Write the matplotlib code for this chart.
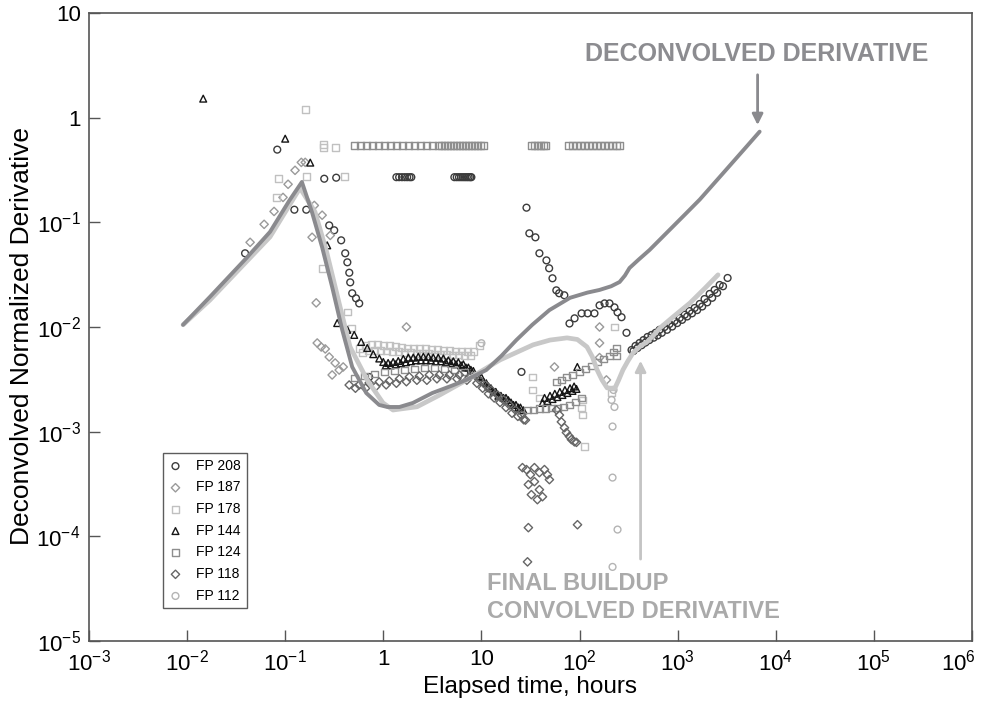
import numpy as np
import matplotlib.pyplot as plt
from matplotlib.transforms import ScaledTranslation

plt.rcParams['font.family'] = ['Liberation Sans', 'DejaVu Sans']
plt.rcParams['mathtext.fontset'] = 'custom'
plt.rcParams['mathtext.rm'] = 'Liberation Sans'
plt.rcParams['mathtext.it'] = 'Liberation Sans'

# deconvolved derivative (dark gray curve)
deconv_t = [0.0091, 0.0171, 0.040, 0.070, 0.11, 0.148, 0.188, 0.238, 0.301, 0.381, 0.482, 0.67,
            0.908, 1.1, 1.46, 2.0, 3.16, 5.0, 7.0, 11.2, 16, 22.7, 33, 49.3, 80, 120, 160, 210, 256,
            290, 323, 400, 517, 800, 1200, 1680, 3000, 5000, 6850]
deconv_y = [0.0105, 0.0194, 0.0453, 0.081, 0.161, 0.243, 0.124, 0.0577, 0.0241, 0.0094, 0.00415, 0.00234,
            0.0018, 0.00172, 0.00172, 0.00188, 0.00234, 0.00275, 0.00312, 0.00388, 0.0053, 0.0075, 0.0105, 0.0145,
            0.019, 0.0213, 0.0226, 0.0245, 0.0269, 0.031, 0.0366, 0.044, 0.0544, 0.082, 0.12, 0.165, 0.305, 0.525, 0.735]

# final buildup convolved derivative (light gray curve)
conv_t = [0.0091, 0.0171, 0.070, 0.1415, 0.201, 0.262, 0.362, 0.458, 0.683, 0.993, 1.256, 2.21, 3.79,
          7.13, 15.5, 33.6, 50, 74.6, 95, 119, 135, 151, 170, 191, 210, 230, 250, 277, 310, 351, 420,
          488, 560, 662, 900, 1340, 1900, 2580]
conv_y = [0.0105, 0.0181, 0.0726, 0.213, 0.126, 0.054, 0.0156, 0.00646, 0.00313, 0.00188, 0.00161, 0.00173, 0.00225,
          0.00313, 0.00485, 0.00675, 0.0075, 0.00787, 0.0076, 0.00646, 0.0052, 0.00389, 0.0031, 0.00262, 0.0026,
          0.00262, 0.0031, 0.00389, 0.0047, 0.00566, 0.0066, 0.00721, 0.0082, 0.0098, 0.0125, 0.017, 0.0235, 0.0315]

# FP 208
fp208_t = [0.039, 0.083, 0.124, 0.164, 0.25, 0.331, 0.281, 0.316, 0.372, 0.409, 0.43, 0.45, 0.46, 0.482, 0.527, 0.568, 0.718,
           1.36, 1.45, 1.55, 1.65, 1.75, 1.85, 1.93,
           5.3, 5.6, 5.9, 6.2, 6.5, 6.8, 7.1, 7.4, 7.7, 7.9,
           25.6, 28.8, 30.8, 35.5, 39, 46, 49, 53, 58, 62, 70, 79, 89, 105, 121, 142, 160, 180, 202, 227, 244, 268, 301,
           339, 372, 409, 449, 493, 542, 595, 654, 735, 827, 930, 1050, 1180, 1320, 1490, 1680, 1880, 2120, 2380, 2680, 3230,
           355, 390, 430, 470, 515, 570, 625, 690, 780, 880, 990, 1110, 1250, 1400, 1580, 1780, 2000, 2250, 2530, 2900]
fp208_y = [0.0506, 0.495, 0.132, 0.132, 0.261, 0.267, 0.0935, 0.084, 0.0673, 0.0506, 0.0415, 0.033, 0.0267, 0.021, 0.0188, 0.0168, 0.00333,
           0.27, 0.27, 0.27, 0.27, 0.27, 0.27, 0.27,
           0.27, 0.27, 0.27, 0.27, 0.27, 0.27, 0.27, 0.27, 0.27, 0.27,
           0.00372, 0.138, 0.0785, 0.0719, 0.0506, 0.0433, 0.0364, 0.0292, 0.0224, 0.021, 0.0201, 0.0108, 0.0121, 0.0135,
           0.0135, 0.0135, 0.0161, 0.0168, 0.0168, 0.0154, 0.0138, 0.0124, 0.0088,
           0.00603, 0.0066, 0.00703, 0.0075, 0.00803, 0.00839, 0.0088, 0.0094, 0.01, 0.0107, 0.0114, 0.0122, 0.0131,
           0.0142, 0.0152, 0.0166, 0.0185, 0.0207, 0.0226, 0.0252, 0.0294,
           0.0059, 0.0063, 0.0067, 0.0071, 0.0075, 0.0079, 0.0083, 0.0088, 0.0094, 0.0101, 0.0109, 0.0117, 0.0126,
           0.0135, 0.0145, 0.0157, 0.0172, 0.019, 0.0212, 0.0245]

# FP 187
fp187_t = [0.0439, 0.061, 0.077, 0.095, 0.107, 0.126, 0.146, 0.16, 0.198, 0.238, 0.288, 0.188, 0.207, 0.212, 0.233,
           0.256, 0.281, 0.301, 0.323, 0.355, 0.39, 1.72, 55.5, 160, 160, 160, 188]
fp187_y = [0.0644, 0.0957, 0.127, 0.173, 0.231, 0.314, 0.374, 0.374, 0.145, 0.117, 0.075, 0.072, 0.017, 0.00703, 0.00644,
           0.00617, 0.00517, 0.00348, 0.00453, 0.00388, 0.00415, 0.01, 0.00415, 0.01, 0.00703, 0.0051, 0.00312]

# FP 178
fp178_t = [0.16, 0.244, 0.244, 0.323, 0.0847, 0.081, 0.166, 0.399, 0.238, 0.429, 0.47,
           0.569, 0.656, 0.755, 0.869, 1.0, 1.15, 1.32, 1.52, 1.76, 2.02, 2.33, 2.68, 3.08, 3.55, 4.09, 4.71, 5.42,
           6.24, 7.18, 8.27, 9.52,
           0.61, 0.70, 0.81, 0.93, 1.07, 1.23, 1.42, 1.64, 1.89, 2.17, 2.5, 2.87, 3.3, 3.8, 4.4, 5.05, 5.8, 6.7, 7.7,
           33.1, 33.1, 39, 107, 105, 107, 112, 212, 227]
fp178_y = [1.19, 0.552, 0.517, 0.517, 0.261, 0.172, 0.273, 0.273, 0.0364, 0.0139, 0.0098,
           0.0062, 0.0066, 0.0068, 0.0068, 0.0067, 0.0066, 0.0065, 0.0064, 0.0063, 0.0063, 0.0062, 0.0062, 0.0061,
           0.0061, 0.006, 0.006, 0.0059, 0.0059, 0.0058, 0.0058, 0.0066,
           0.0057, 0.0059, 0.006, 0.006, 0.0059, 0.0058, 0.0058, 0.0057, 0.0057, 0.0056, 0.0056, 0.0056, 0.0055,
           0.0055, 0.0055, 0.0054, 0.0054, 0.0053, 0.0053,
           0.00333, 0.0025, 0.0021, 0.00201, 0.00168, 0.00144, 0.00072, 0.00234, 0.01]

# FP 144
fp144_t = [0.0146, 0.1, 0.18, 0.268, 0.339, 0.429, 0.505, 0.595, 0.686, 0.79, 0.91,
           1.0, 1.12, 1.26, 1.42, 1.6, 1.8, 2.02, 2.27, 2.56, 2.88, 3.23, 3.63, 4.09, 4.6, 5.17, 5.82, 6.54, 7.36,
           8.27, 9.3, 10.5, 11.8, 13.3, 14.9, 16.8, 18.8, 21.2, 23.8, 26.8,
           1.06, 1.19, 1.34, 1.51, 1.7, 1.91, 2.15, 2.42, 2.72, 3.05, 3.43, 3.86, 4.34, 4.88, 5.5, 6.2, 6.95, 7.8,
           10, 11.2, 12.5, 14, 15.8, 17.8, 20, 22.5, 25,
           41.9, 47.1, 53, 59.5, 66.9, 75.3, 84.7, 93, 95,
           44, 50, 56, 63, 71, 80, 88]
fp144_y = [1.52, 0.63, 0.372, 0.0603, 0.0109, 0.0094, 0.0084, 0.0072, 0.0063, 0.0055, 0.005,
           0.00463, 0.00453, 0.00463, 0.00473, 0.00495, 0.0051, 0.0051, 0.0052, 0.0052, 0.0052, 0.0051, 0.0051, 0.005,
           0.0048, 0.0047, 0.0046, 0.0044, 0.0041, 0.0038, 0.0034, 0.003, 0.0027, 0.0024, 0.0022, 0.0021, 0.002,
           0.0018, 0.0017, 0.0016,
           0.0043, 0.0043, 0.0044, 0.0045, 0.0046, 0.0047, 0.0048, 0.0048, 0.0048, 0.0048, 0.0047, 0.0047, 0.0046,
           0.0045, 0.0044, 0.0043, 0.0041, 0.0039,
           0.0033, 0.0029, 0.0026, 0.0024, 0.0022, 0.0021, 0.0019, 0.0018, 0.0017,
           0.00188, 0.00196, 0.00205, 0.00214, 0.00224, 0.00234, 0.00245, 0.00256, 0.00415,
           0.0021, 0.0022, 0.0023, 0.0024, 0.0025, 0.0026, 0.0027]

# FP 124
fp124_t = [0.506, 0.583, 0.671, 0.772, 0.889, 1.02, 1.18, 1.36, 1.56, 1.8, 2.07, 2.38, 2.74, 3.16, 3.64, 3.9, 4.19,
           4.49, 4.82, 5.17, 5.55, 5.95, 6.39, 6.86, 7.36, 7.89, 8.47, 9.08, 9.75, 10.5,
           32.3, 34.7, 37.2, 39.9, 42.9, 44.9,
           77.1, 84.7, 93, 102, 112, 124, 136, 149, 164, 180, 198, 217, 238, 256,
           0.505, 0.639, 0.808, 1.02, 1.29, 1.64, 2.07, 2.62, 3.31, 4.19, 5.3, 6.7, 8.47,
           29.4, 33.9, 39, 44.9, 51.7, 59.5, 68.5, 78.9, 90.8, 105,
           58.2, 65.3, 73.5, 84.7, 100, 115, 132, 153, 176, 202, 222, 238, 238]
fp124_y = [0.54, 0.54, 0.54, 0.54, 0.54, 0.54, 0.54, 0.54, 0.54, 0.54, 0.54, 0.54, 0.54, 0.54, 0.54, 0.54, 0.54,
           0.54, 0.54, 0.54, 0.54, 0.54, 0.54, 0.54, 0.54, 0.54, 0.54, 0.54, 0.54, 0.54,
           0.54, 0.54, 0.54, 0.54, 0.54, 0.54,
           0.54, 0.54, 0.54, 0.54, 0.54, 0.54, 0.54, 0.54, 0.54, 0.54, 0.54, 0.54, 0.54, 0.54,
           0.00326, 0.0034, 0.00356, 0.00372, 0.0038, 0.00388, 0.00397, 0.00406, 0.00406, 0.00397, 0.00388, 0.00372, 0.00348,
           0.00161, 0.00161, 0.00165, 0.00165, 0.00168, 0.00168, 0.00172, 0.0018, 0.00192, 0.0021,
           0.00298, 0.00312, 0.00333, 0.00348, 0.00372, 0.00397, 0.00424, 0.00463, 0.00495, 0.00528, 0.00577, 0.0063, 0.00528]

# FP 118
fp118_t = [0.449, 0.568, 0.718, 0.908, 1.15, 1.46, 1.84, 2.33, 2.94, 3.72, 4.71, 5.95, 7.53, 9.52, 11, 12.6, 14.6,
           16.8, 19.3, 22.2, 25.6, 28.1,
           0.52, 0.66, 0.84, 1.07, 1.36, 1.72, 2.2, 2.78, 3.52, 4.45, 5.63, 7.1, 9.0,
           10.3, 11.8, 13.5, 15.5, 17.8, 20.5, 23.5, 27,
           58.2, 62.4, 65.3, 70.2, 73.5, 78.9, 82.7, 88.7, 93,
           26.2, 28.8, 31.6, 34.7, 39, 43.9, 47.1, 34.7, 39, 32.3, 37.2, 41.9, 49.3, 30.1,
           30.1, 29.5, 95.3]
fp118_y = [0.00279, 0.00279, 0.00292, 0.00298, 0.00305, 0.00319, 0.00333, 0.0034, 0.00348, 0.00348, 0.00348, 0.00348,
           0.00333, 0.00312, 0.00279, 0.0025, 0.00224, 0.00201, 0.0018, 0.00161, 0.00144, 0.00129,
           0.0026, 0.0026, 0.0027, 0.0028, 0.0029, 0.003, 0.0031, 0.0031, 0.0032, 0.0032, 0.0032, 0.0031, 0.0029,
           0.0026, 0.0023, 0.0021, 0.0019, 0.0017, 0.0015, 0.0014, 0.0013,
           0.00161, 0.00144, 0.00124, 0.00109, 0.00098, 0.0009, 0.00084, 0.0008, 0.00079,
           0.000453, 0.000434, 0.000388, 0.000453, 0.000406, 0.000434, 0.000388, 0.000333, 0.000279, 0.00025,
           0.000224, 0.000239, 0.000348, 0.000312,
           0.000121, 5.7e-5, 0.000129]

# FP 112
fp112_t = [217, 217, 244, 217, 227, 222, 10, 212]
fp112_y = [0.00112, 0.000364, 0.000116, 5.1e-5, 0.00172, 0.0025, 0.007, 0.00201]

series = [
    ('FP 208', fp208_t, fp208_y, 'o', '#3c3c3c'),
    ('FP 187', fp187_t, fp187_y, 'D', '#9a9a9a'),
    ('FP 178', fp178_t, fp178_y, 's', '#c0c0c0'),
    ('FP 144', fp144_t, fp144_y, '^', '#151515'),
    ('FP 124', fp124_t, fp124_y, 's', '#8e8e8e'),
    ('FP 118', fp118_t, fp118_y, 'D', '#666666'),
    ('FP 112', fp112_t, fp112_y, 'o', '#b4b4b4'),
]

fig = plt.figure(figsize=(9.81, 7.07), dpi=100)
ax = fig.add_axes([0.0907, 0.0934, 0.9001, 0.8882])

for name, t, y, m, c in series:
    s = 18 if m == 'D' else 24
    ax.scatter(t, y, marker=m, s=s, facecolors='none', edgecolors=c, linewidths=1.0, label=name, zorder=2)

ax.plot(conv_t, conv_y, color='#c8c8c8', lw=3.4, zorder=3, solid_capstyle='round', solid_joinstyle='round')
ax.plot(deconv_t, deconv_y, color='#8a8a8e', lw=2.8, zorder=4, solid_capstyle='round', solid_joinstyle='round')

ax.set_xscale('log')
ax.set_yscale('log')
ax.set_xlim(1e-3, 1e6)
ax.set_ylim(1e-5, 10)

xt = [1e-3, 1e-2, 1e-1, 1, 10, 1e2, 1e3, 1e4, 1e5, 1e6]
xl = ['$10^{-3}$', '$10^{-2}$', '$10^{-1}$', '1', '10', '$10^{2}$', '$10^{3}$', '$10^{4}$', '$10^{5}$', '$10^{6}$']
yt = [1e-5, 1e-4, 1e-3, 1e-2, 1e-1, 1, 10]
yl = ['$10^{-5}$', '$10^{-4}$', '$10^{-3}$', '$10^{-2}$', '$10^{-1}$', '1', '10']
ax.set_xticks(xt)
ax.set_xticklabels(xl)
ax.set_yticks(yt)
ax.set_yticklabels(yl)
ax.minorticks_off()
ax.tick_params(direction='in', length=8, width=1, color='#555555', labelsize=16, pad=6)
last = ax.get_xticklabels()[-1]
last.set_transform(last.get_transform() + ScaledTranslation(-10 / 72, 0, fig.dpi_scale_trans))

for sp in ax.spines.values():
    sp.set_color('#555555')
    sp.set_linewidth(1.2)

ax.set_xlabel('Elapsed time, hours', fontsize=17.5)
ax.set_ylabel('Deconvolved Normalized Derivative', fontsize=19)
ax.xaxis.set_label_coords(0.5, -0.056)
ax.yaxis.set_label_coords(-0.062, 0.486)

leg = ax.legend(loc='upper left', bbox_to_anchor=(0.0838, 0.299), borderaxespad=0, fontsize=10,
                frameon=True, fancybox=False, edgecolor='#333333', handlelength=1.0, handletextpad=1.0,
                labelspacing=0.55, borderpad=0.4, scatterpoints=1)
leg.get_frame().set_linewidth(1.0)

# annotations
ax.annotate('', xy=(6530, 0.8), xytext=(6530, 2.73),
            arrowprops=dict(arrowstyle='-|>', color='#8a8a8e', lw=2, mutation_scale=16))
ax.annotate('', xy=(419, 0.00506), xytext=(419, 5.7e-5),
            arrowprops=dict(arrowstyle='-|>', color='#c4c4c4', lw=2, mutation_scale=16))
fig.text(585 / 981, 1 - 54 / 707, 'DECONVOLVED DERIVATIVE', color='#8c8c90', fontsize=18,
         fontweight='bold', va='center', ha='left')
fig.text(487 / 981, 1 - 583 / 707, 'FINAL BUILDUP', color='#aaaaaa', fontsize=17,
         fontweight='bold', va='center', ha='left')
fig.text(487 / 981, 1 - 612 / 707, 'CONVOLVED DERIVATIVE', color='#aaaaaa', fontsize=17,
         fontweight='bold', va='center', ha='left')

fig.savefig('out.png', dpi=100)
